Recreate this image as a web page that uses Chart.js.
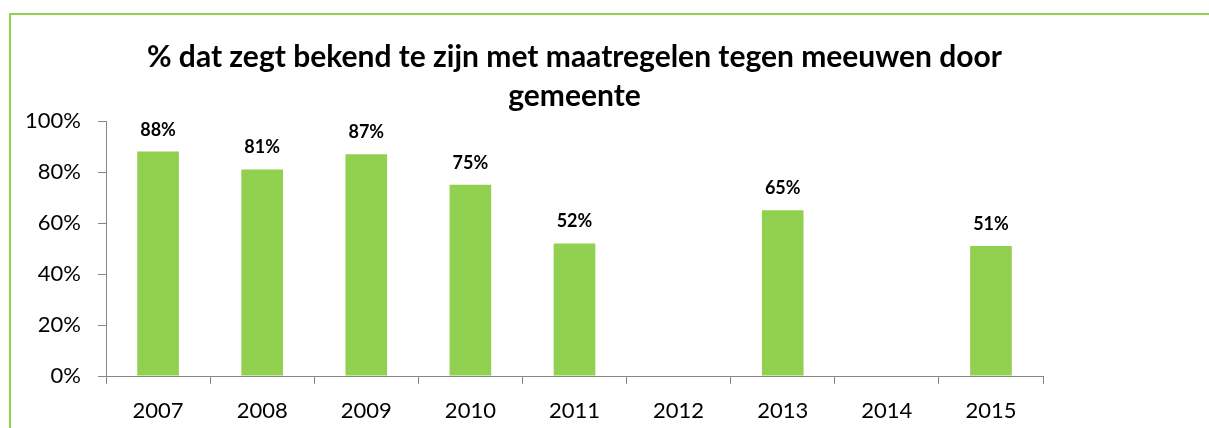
<!DOCTYPE html>
<html lang="nl">
<head>
<meta charset="utf-8">
<title>Meeuwen maatregelen</title>
<script src="https://cdn.jsdelivr.net/npm/chart.js@4/dist/chart.umd.min.js"></script>
<style>
  html, body {
    margin: 0;
    padding: 0;
    background: #ffffff;
    overflow: hidden;
  }
  .wrap {
    position: relative;
    width: 1209px;
    height: 428px;
  }
  .frame {
    position: absolute;
    left: 9px;
    top: 13px;
    right: -10px;
    bottom: -10px;
    border-left: 2px solid #92d050;
    border-top: 2px solid #92d050;
  }
  canvas {
    position: absolute;
    left: 0;
    top: 0;
  }
</style>
</head>
<body>
<div class="wrap">
  <div class="frame"></div>
  <canvas id="chart" width="1209" height="428"></canvas>
</div>
<script>
// ---------- data ----------
const years = ["2007", "2008", "2009", "2010", "2011", "2012", "2013", "2014", "2015"];
const percentages = [88, 81, 87, 75, 52, null, 65, null, 51];
const yTicks = [0, 20, 40, 60, 80, 100];

const GREEN = "#92d050";
const AXIS = "#868686";
const FONT = "Lato, 'Open Sans', sans-serif";

// labels boven de balken
const barLabels = {
  id: "barLabels",
  afterDatasetsDraw(chart) {
    const ctx = chart.ctx;
    const meta = chart.getDatasetMeta(0);
    ctx.save();
    ctx.font = "bold 18px " + FONT;
    ctx.fillStyle = "#000";
    ctx.textAlign = "center";
    ctx.textBaseline = "alphabetic";
    meta.data.forEach((bar, i) => {
      const v = percentages[i];
      if (v === null) return;
      ctx.fillText(v + "%", bar.x, bar.y - 16);
    });
    ctx.restore();
  }
};

new Chart(document.getElementById("chart"), {
  type: "bar",
  data: {
    labels: years,
    datasets: [{
      data: percentages,
      backgroundColor: GREEN,
      borderWidth: 0,
      categoryPercentage: 1,
      barPercentage: 0.4
    }]
  },
  options: {
    responsive: false,
    animation: false,
    layout: {
      padding: { left: 0, right: 166, top: 0, bottom: 0 }
    },
    plugins: {
      legend: { display: false },
      tooltip: { enabled: false },
      title: {
        display: true,
        fullSize: false,
        text: ["% dat zegt bekend te zijn met maatregelen tegen meeuwen door", "gemeente"],
        color: "#000",
        font: { family: FONT, size: 30, weight: "bold", lineHeight: 1.3 },
        padding: { top: 38, bottom: 5 }
      }
    },
    scales: {
      x: {
        grid: {
          display: true,
          drawOnChartArea: false,
          drawTicks: true,
          tickLength: 8,
          color: AXIS,
          offset: true
        },
        border: { display: true, color: AXIS, width: 1 },
        ticks: {
          color: "#000",
          padding: 14,
          font: { family: FONT, size: 22 }
        },
        afterFit(scale) { scale.height = 52; }
      },
      y: {
        min: 0,
        max: 100,
        afterBuildTicks(scale) {
          scale.ticks = yTicks.map(v => ({ value: v }));
        },
        grid: {
          display: true,
          drawOnChartArea: false,
          drawTicks: true,
          tickLength: 8,
          color: AXIS
        },
        border: { display: true, color: AXIS, width: 1 },
        ticks: {
          color: "#000",
          padding: 17,
          font: { family: FONT, size: 22 },
          callback: (v) => v + "%"
        },
        afterFit(scale) { scale.width = 106; }
      }
    }
  },
  plugins: [barLabels]
});
</script>
</body>
</html>
